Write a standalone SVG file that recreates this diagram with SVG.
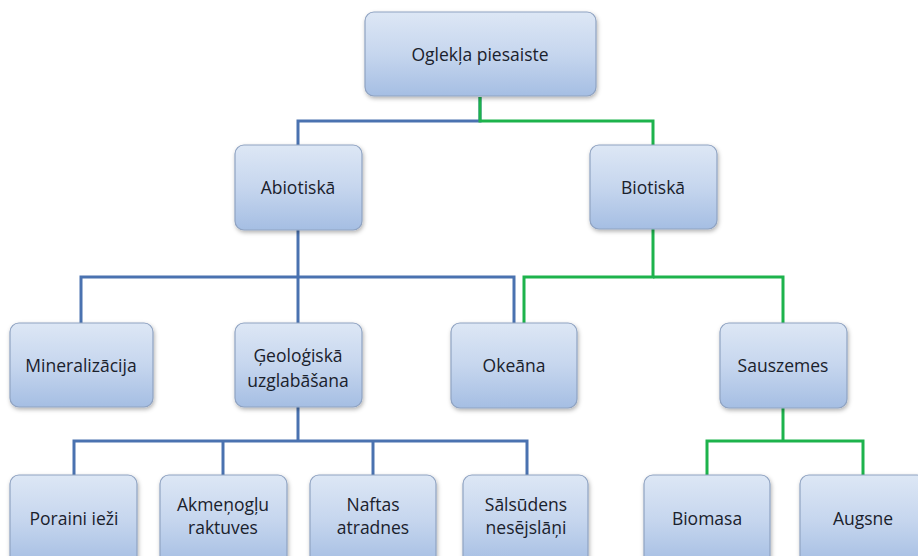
<svg xmlns="http://www.w3.org/2000/svg" width="918" height="556" viewBox="0 0 918 556">
<defs>
<linearGradient id="g" x1="0" y1="0" x2="0" y2="1">
<stop offset="0" stop-color="#dde7f5"/>
<stop offset="0.5" stop-color="#c6d6ee"/>
<stop offset="1" stop-color="#a5bee3"/>
</linearGradient>
<filter id="sh" x="-10%" y="-10%" width="130%" height="130%">
<feDropShadow dx="1" dy="2" stdDeviation="2" flood-color="#000" flood-opacity="0.3"/>
</filter>
</defs>
<style>
.box{fill:url(#g);stroke:#8fa3c2;stroke-width:1.2;filter:url(#sh)}
.t{font-family:"Open Sans","Noto Sans","Liberation Sans",sans-serif;font-size:17.5px;fill:#1a212c;text-anchor:middle}
.b{fill:none;stroke:#4a72b0;stroke-width:3}
.gr{fill:none;stroke:#1db34c;stroke-width:3}
</style>
<rect width="918" height="556" fill="#fff"/>
<g id="connectors">
<polyline class="b" points="480,97 480,121 298,121 298,145"/>
<polyline class="gr" points="480,97 480,121 653,121 653,145"/>
<polyline class="b" points="298,230 298,323"/>
<polyline class="b" points="81,323 81,277 514,277 514,323"/>
<polyline class="gr" points="653,229 653,277 524,277 524,323"/>
<polyline class="gr" points="653,277 783,277 783,323"/>
<polyline class="b" points="298,407 298,441"/>
<polyline class="b" points="74,475 74,441 527,441 527,475"/>
<polyline class="b" points="223,441 223,475"/>
<polyline class="b" points="373,441 373,475"/>
<polyline class="gr" points="783,408 783,441"/>
<polyline class="gr" points="707,475 707,441 863,441 863,475"/>
</g>
<g id="n-root"><rect class="box" x="365" y="12" width="231" height="84" rx="9"/><text class="t" x="480" y="61">Oglekļa piesaiste</text></g>
<g id="n-abiotiska"><rect class="box" x="235" y="145" width="127" height="85" rx="9"/><text class="t" x="298" y="194">Abiotiskā</text></g>
<g id="n-biotiska"><rect class="box" x="590" y="145" width="127" height="84" rx="9"/><text class="t" x="653" y="194">Biotiskā</text></g>
<g id="n-mineral"><rect class="box" x="10" y="323" width="143" height="84" rx="9"/><text class="t" x="81" y="372">Mineralizācija</text></g>
<g id="n-geolog"><rect class="box" x="235" y="323" width="127" height="84" rx="9"/><text class="t" x="298" y="362">Ģeoloģiskā</text><text class="t" x="298" y="387">uzglabāšana</text></g>
<g id="n-okeana"><rect class="box" x="451" y="323" width="126" height="85" rx="9"/><text class="t" x="514" y="372">Okeāna</text></g>
<g id="n-sauszemes"><rect class="box" x="720" y="323" width="127" height="85" rx="9"/><text class="t" x="783" y="372">Sauszemes</text></g>
<g id="n-poraini"><rect class="box" x="10" y="475" width="127" height="90" rx="9"/><text class="t" x="74" y="525">Poraini ieži</text></g>
<g id="n-akmenoglu"><rect class="box" x="160" y="475" width="127" height="90" rx="9"/><text class="t" x="223" y="511">Akmeņogļu</text><text class="t" x="223" y="534">raktuves</text></g>
<g id="n-naftas"><rect class="box" x="310" y="475" width="126" height="90" rx="9"/><text class="t" x="373" y="511">Naftas</text><text class="t" x="373" y="534">atradnes</text></g>
<g id="n-salsudens"><rect class="box" x="463" y="475" width="125" height="90" rx="9"/><text class="t" x="526" y="511">Sālsūdens</text><text class="t" x="526" y="534">nesējslāņi</text></g>
<g id="n-biomasa"><rect class="box" x="644" y="475" width="126" height="90" rx="9"/><text class="t" x="707" y="525">Biomasa</text></g>
<g id="n-augsne"><rect class="box" x="800" y="475" width="126" height="90" rx="9"/><text class="t" x="863" y="525">Augsne</text></g>
</svg>
